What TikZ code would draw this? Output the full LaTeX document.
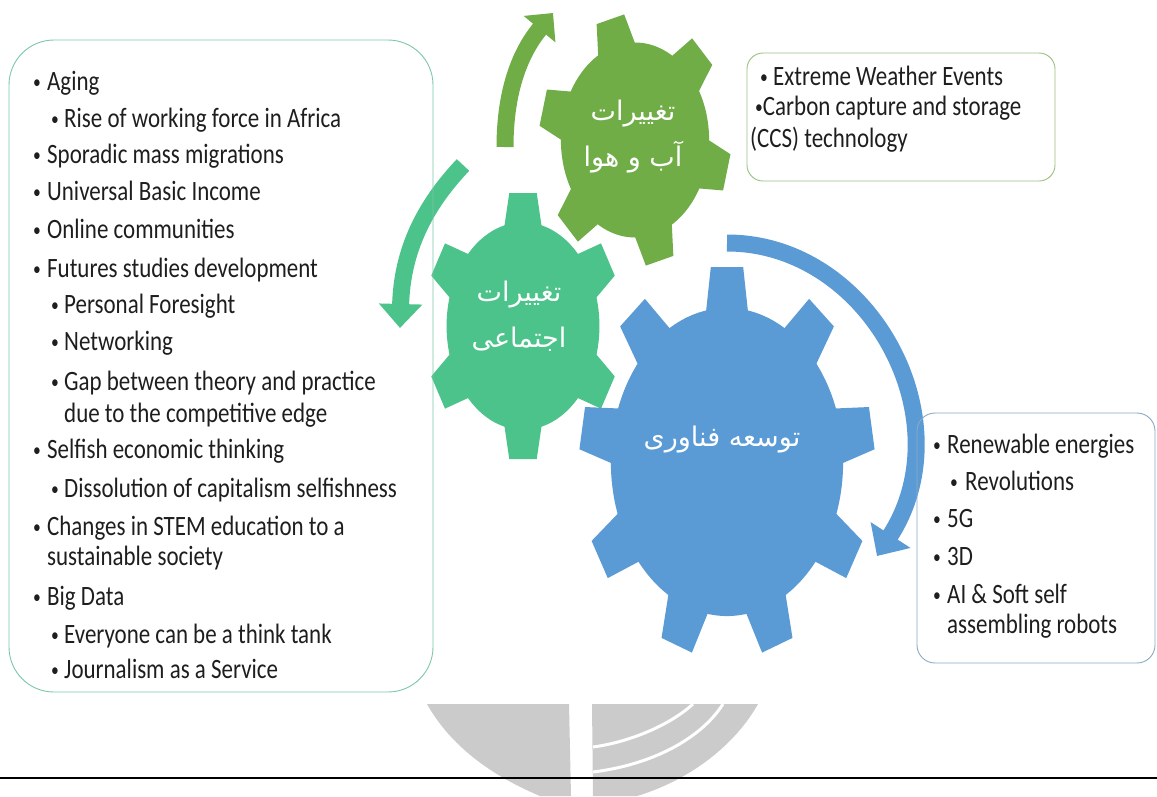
\documentclass[tikz,border=0pt]{standalone}
\usepackage{fontspec}
\usetikzlibrary{arrows.meta}
\TeXXeTstate=1
\newfontfamily\lst[FakeStretch=0.82]{Carlito}
\newfontfamily\arabicfont[Script=Arabic]{DejaVu Sans}
\definecolor{gOlive}{HTML}{70AD47}
\definecolor{gTeal}{HTML}{4CC38A}
\definecolor{gBlue}{HTML}{5B9BD5}
\definecolor{bTeal}{HTML}{7CC8A6}
\definecolor{bOlive}{HTML}{9DC07E}
\definecolor{bBlue}{HTML}{8AAAC6}
\definecolor{txtc}{HTML}{1E1E1E}
\definecolor{wmark}{HTML}{CBCBCB}
\newcommand{\mybul}{{\fontsize{19}{19}\selectfont\raisebox{2pt}{•}}}
\tikzset{
  lt/.style={anchor=base west, inner sep=0pt, font=\lst\fontsize{28}{30}\selectfont, text=txtc},
  gtext/.style={text=white, font=\arabicfont\fontsize{27}{46}\selectfont, align=center, inner sep=0pt},
  arr/.style={line width=17pt},
  listbox/.style={rounded corners=#1, line width=0.9pt, inner sep=0pt, fill=none},
}
\begin{document}
\begin{tikzpicture}[x=1pt,y=-1pt]
\useasboundingbox (0,0) rectangle (1157,796);
\fill[white] (0,0) rectangle (1157,796);
% watermark
\fill[wmark] (427,704) -- (569,704) -- (571,796) -- (540,796) .. controls (490,775) and (450,745) .. (427,704) -- cycle;
\fill[wmark] (592,704) -- (758,704) .. controls (735,745) and (690,780) .. (637,796) -- (593,796) -- cycle;
\draw[white, line width=3pt] (693,704) .. controls (670,725) and (630,742) .. (593,747);
\draw[white, line width=3pt] (723,704) .. controls (700,740) and (650,765) .. (593,772);
\draw[line width=2.6pt, black] (0,778) -- (1157,778);
% olive gear (6 teeth)
\begin{scope}[shift={(635,140)}, xscale=95, yscale=-125, fill=gOlive]
  \fill (0,0) circle[radius=0.78];
  \foreach \k in {0,...,5}{
    \pgfmathsetmacro\a{105+60*\k}
    \pgfmathsetmacro\ca{cos(\a)}\pgfmathsetmacro\sa{sin(\a)}
    \fill ({0.7*\ca-0.21*\sa},{0.7*\sa+0.21*\ca}) -- ({\ca-0.15*\sa},{\sa+0.15*\ca}) -- ({\ca+0.15*\sa},{\sa-0.15*\ca}) -- ({0.7*\ca+0.21*\sa},{0.7*\sa-0.21*\ca}) -- cycle;
  }
\end{scope}
% teal gear (6 teeth)
\begin{scope}[shift={(523,326)}, xscale=98, yscale=-133, fill=gTeal]
  \fill (0,0) circle[radius=0.78];
  \foreach \k in {0,...,5}{
    \pgfmathsetmacro\a{90+60*\k}
    \pgfmathsetmacro\ca{cos(\a)}\pgfmathsetmacro\sa{sin(\a)}
    \fill ({0.7*\ca-0.2*\sa},{0.7*\sa+0.2*\ca}) -- ({\ca-0.14*\sa},{\sa+0.14*\ca}) -- ({\ca+0.14*\sa},{\sa-0.14*\ca}) -- ({0.7*\ca+0.2*\sa},{0.7*\sa-0.2*\ca}) -- cycle;
  }
\end{scope}
% blue gear (9 teeth)
\begin{scope}[shift={(727,462)}, xscale=147, yscale=-195, fill=gBlue]
  \fill (0,0) circle[radius=0.79];
  \foreach \k in {0,...,8}{
    \pgfmathsetmacro\a{90+40*\k}
    \pgfmathsetmacro\ca{cos(\a)}\pgfmathsetmacro\sa{sin(\a)}
    \fill ({0.72*\ca-0.15*\sa},{0.72*\sa+0.15*\ca}) -- ({\ca-0.11*\sa},{\sa+0.11*\ca}) -- ({\ca+0.11*\sa},{\sa-0.11*\ca}) -- ({0.72*\ca+0.15*\sa},{0.72*\sa-0.15*\ca}) -- cycle;
  }
\end{scope}
% gear labels
\node[gtext] (tOlive) at (633,137) {\beginR تغییرات\endR\\\beginR آب و هوا\endR};
\node[gtext] (tTeal) at (519,316) {\beginR تغییرات\endR\\\beginR اجتماعی\endR};
\node[gtext] (tBlue) at (722,440) {\beginR توسعه فناوری\endR};
% curved arrows
\coordinate (oa1) at (505,147);
\coordinate (oa2) at (553,13);
\draw[arr, gOlive, -{Triangle[width=40pt,length=21pt]}] (oa1) .. controls (505,95) and (518,55) .. (oa2);
\coordinate (ta1) at (463,165);
\coordinate (ta2) at (400,328);
\draw[arr, gTeal, -{Triangle[width=42pt,length=24pt]}] (ta1) .. controls (425,205) and (402,250) .. (ta2);
\coordinate (ba1) at (727,243);
\coordinate (ba2) at (877,556);
\draw[arr, gBlue, -{Triangle[width=46pt,length=25pt]}] (ba1) .. controls (870,243) and (965,420) .. (ba2);
% boxes
\node[listbox=45pt, draw=bTeal, minimum width=424pt, minimum height=652pt] (leftbox) at (221,366) {};
\node[listbox=16pt, draw=bOlive, minimum width=308pt, minimum height=128pt] (climbox) at (901,117) {};
\node[listbox=18pt, draw=bBlue, minimum width=238pt, minimum height=250pt] (techbox) at (1036,538) {};
% left list
\node[lt] (l1) at (33,90) {\makebox[14pt][l]{\mybul}Aging};
\node[lt] (l2) at (51,127) {\makebox[13pt][l]{\mybul}Rise of working force in Africa};
\node[lt] (l3) at (33,163) {\makebox[14pt][l]{\mybul}Sporadic mass migrations};
\node[lt] (l4) at (33,200) {\makebox[14pt][l]{\mybul}Universal Basic Income};
\node[lt] (l5) at (33,238) {\makebox[14pt][l]{\mybul}Online communities};
\node[lt] (l6) at (33,277) {\makebox[14pt][l]{\mybul}Futures studies development};
\node[lt] (l7) at (51,313) {\makebox[13pt][l]{\mybul}Personal Foresight};
\node[lt] (l8) at (51,350) {\makebox[13pt][l]{\mybul}Networking};
\node[lt] (l9) at (51,390) {\makebox[13pt][l]{\mybul}Gap between theory and practice};
\node[lt] (l10) at (64,422) {due to the competitive edge};
\node[lt] (l11) at (33,458) {\makebox[14pt][l]{\mybul}Selfish economic thinking};
\node[lt] (l12) at (51,497) {\makebox[13pt][l]{\mybul}Dissolution of capitalism selfishness};
\node[lt] (l13) at (33,535) {\makebox[14pt][l]{\mybul}Changes in STEM education to a};
\node[lt] (l14) at (47,565) {sustainable society};
\node[lt] (l15) at (33,605) {\makebox[14pt][l]{\mybul}Big Data};
\node[lt] (l16) at (51,643) {\makebox[13pt][l]{\mybul}Everyone can be a think tank};
\node[lt] (l17) at (51,678) {\makebox[13pt][l]{\mybul}Journalism as a Service};
% climate box
\node[lt] (c1) at (760,85) {\makebox[13pt][l]{\mybul}Extreme Weather Events};
\node[lt] (c2) at (755,115) {\mybul Carbon capture and storage};
\node[lt] (c3) at (750,147) {(CCS) technology};
% tech box
\node[lt] (r1) at (933,453) {\makebox[14pt][l]{\mybul}Renewable energies};
\node[lt] (r2) at (950,490) {\makebox[15pt][l]{\mybul}Revolutions};
\node[lt] (r3) at (933,527) {\makebox[14pt][l]{\mybul}5G};
\node[lt] (r4) at (933,565) {\makebox[14pt][l]{\mybul}3D};
\node[lt] (r5) at (933,603) {\makebox[14pt][l]{\mybul}AI \& Soft self};
\node[lt] (r6) at (947,633) {assembling robots};
\end{tikzpicture}
\end{document}
